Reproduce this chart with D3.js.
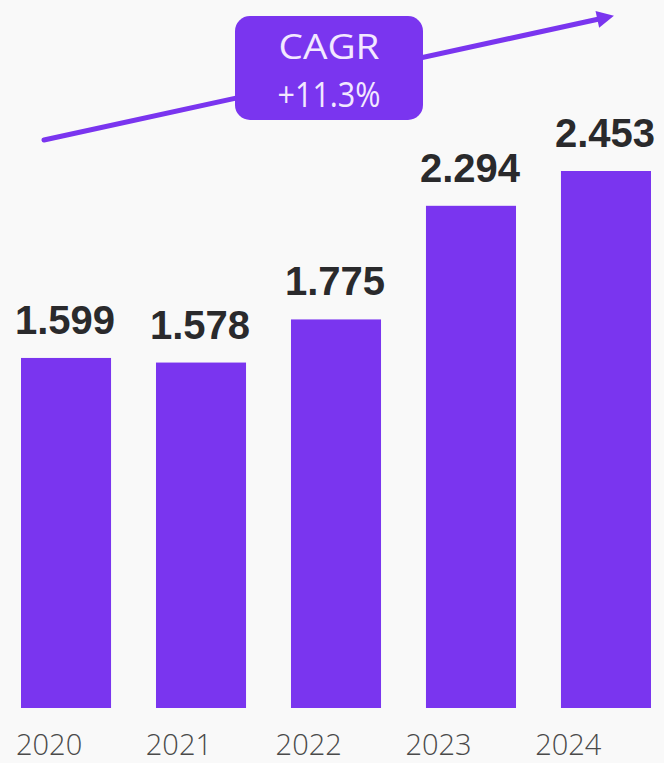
<!DOCTYPE html>
<html><head><meta charset="utf-8">
<script src="https://cdn.jsdelivr.net/npm/d3@7"></script>
<style>
html,body{margin:0;padding:0;background:#f9f9f9;}
svg{display:block;}
</style></head>
<body>
<script>
const years = ["2020","2021","2022","2023","2024"];
const values = [1.599, 1.578, 1.775, 2.294, 2.453];
const valueLabels = ["1.599","1.578","1.775","2.294","2.453"];
const cagrLines = ["CAGR","+11.3%"];

const W = 664, H = 763;
const purple = "#7a35ef";
const svg = d3.select("body").append("svg").attr("width", W).attr("height", H);
svg.append("rect").attr("width", W).attr("height", H).attr("fill", "#f9f9f9");

const x = d3.scaleBand().domain(years).range([21, 651]).paddingInner(0.333).paddingOuter(0);
const y = d3.scaleLinear().domain([0, 2.453]).range([708, 171]);
const xl = d3.scaleBand().domain(years).range([16, 665]).padding(0);

svg.selectAll("rect.bar").data(years).join("rect")
  .attr("class","bar")
  .attr("x", d => x(d)).attr("width", x.bandwidth())
  .attr("y", (d,i) => y(values[i])).attr("height", (d,i) => y(0) - y(values[i]))
  .attr("fill", purple);

svg.selectAll("text.val").data(years).join("text")
  .attr("class","val")
  .attr("x", d => x(d) + x.bandwidth()/2 - 1)
  .attr("y", (d,i) => y(values[i]) - 24)
  .attr("text-anchor","middle")
  .attr("font-family","'Liberation Sans', Arial, sans-serif")
  .attr("font-weight","bold").attr("font-size", 40)
  .attr("fill","#2a2a2c")
  .text((d,i) => valueLabels[i]);

// x-axis labels
const axis = d3.axisBottom(xl).tickSize(0).tickPadding(0);
const gx = svg.append("g").attr("transform","translate(0,740)").call(axis);
gx.select(".domain").remove();
gx.selectAll("text")
  .attr("x", -xl.bandwidth()/2).attr("text-anchor","start").attr("dy", 0).attr("y", 15)
  .attr("font-family","'Open Sans', sans-serif").attr("font-size", 29)
  .attr("font-weight", 300)
  .attr("fill","#4a4a4a");

// CAGR arrow
const defs = svg.append("defs");
defs.append("marker").attr("id","ah").attr("viewBox","0 0 10 10")
  .attr("refX", 1).attr("refY", 5).attr("markerWidth", 3.6).attr("markerHeight", 3.4)
  .attr("orient","auto")
  .append("path").attr("d","M0,0 L10,5 L0,10 Z").attr("fill", purple);
svg.append("line").attr("x1", 44).attr("y1", 140).attr("x2", 599).attr("y2", 19)
  .attr("stroke", purple).attr("stroke-width", 5).attr("stroke-linecap","round")
  .attr("marker-end","url(#ah)");

svg.append("rect").attr("x", 235).attr("y", 16).attr("width", 188).attr("height", 104)
  .attr("rx", 15).attr("fill", purple);
const cagrWidths = [101, 103];
svg.selectAll("text.cagr").data(cagrLines).join("text")
  .attr("class","cagr")
  .attr("x", 329).attr("y", (d,i) => 59 + i*48)
  .attr("text-anchor","middle")
  .attr("font-family","'Open Sans', sans-serif").attr("font-size", 34)
  .attr("textLength", (d,i) => cagrWidths[i]).attr("lengthAdjust","spacingAndGlyphs")
  .attr("fill","#f2e8ff")
  .text(d => d);
</script>
</body></html>
